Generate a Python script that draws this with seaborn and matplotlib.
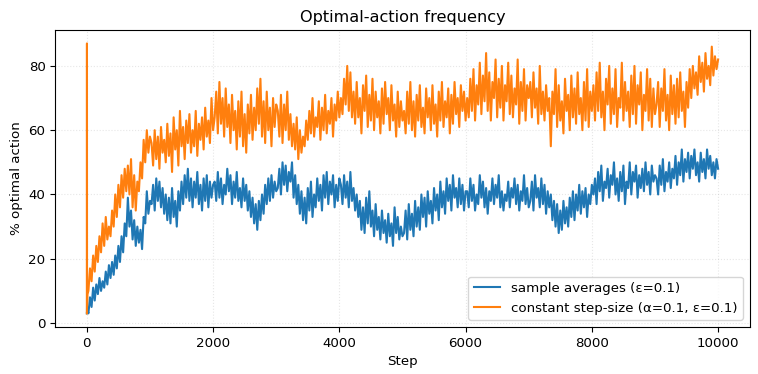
import pandas as pd
import matplotlib
matplotlib.use("Agg")
import matplotlib.pyplot as plt
import seaborn as sns

# first few steps, then one reading every 25 steps
early_steps = [1, 2, 3, 10]
steps = early_steps + list(range(25, 10001, 25))

sample_avg = [3, 3, 5, 4,
    3, 8, 5, 11, 7, 12, 9, 14, 10, 13, 11, 16, 12, 18, 14, 19, 15, 21, 17, 24, 19, 27, 22, 31, 27, 39, 30, 35, 26, 32, 24, 30, 25, 29, 23, 33, 31, 41, 34, 38,
    37, 43, 35, 45, 38, 44, 36, 42, 34, 40, 32, 39, 31, 42, 33, 38, 30, 41, 35, 44, 37, 46, 39, 48, 38, 45, 36, 44, 39, 47, 37, 43, 35, 45, 38, 46, 36, 44, 39, 43,
    44, 38, 47, 39, 45, 37, 43, 40, 48, 41, 46, 37, 44, 39, 47, 38, 42, 36, 45, 38, 43, 35, 41, 33, 39, 31, 37, 29, 38, 32, 40, 34, 43, 37, 45, 38, 46, 39, 44, 41,
    42, 48, 40, 50, 43, 49, 41, 47, 44, 50, 39, 46, 37, 43, 34, 41, 32, 39, 31, 42, 35, 44, 33, 40, 36, 45, 38, 43, 35, 46, 39, 47, 37, 44, 40, 46, 36, 43, 38, 45,
    43, 37, 46, 39, 44, 36, 47, 38, 42, 35, 40, 33, 38, 29, 36, 28, 39, 31, 41, 30, 35, 27, 37, 29, 33, 26, 35, 28, 32, 25, 34, 27, 31, 24, 36, 28, 33, 26, 30, 27,
    28, 35, 26, 37, 29, 34, 27, 38, 30, 36, 29, 40, 33, 39, 30, 41, 34, 38, 31, 42, 35, 40, 32, 44, 36, 41, 34, 45, 38, 43, 35, 46, 39, 42, 36, 45, 37, 43, 35, 41,
    41, 36, 45, 38, 43, 35, 40, 37, 46, 39, 44, 36, 42, 34, 41, 38, 45, 37, 43, 39, 46, 36, 41, 35, 40, 38, 44, 36, 42, 39, 45, 37, 43, 35, 41, 38, 46, 37, 42, 36,
    38, 44, 35, 46, 39, 42, 36, 45, 37, 43, 34, 41, 36, 40, 32, 38, 30, 37, 28, 35, 29, 38, 31, 36, 30, 39, 33, 41, 32, 40, 35, 43, 34, 41, 36, 42, 33, 40, 37, 43,
    40, 45, 37, 47, 41, 49, 38, 44, 42, 48, 39, 46, 43, 50, 40, 45, 38, 47, 41, 49, 37, 44, 42, 50, 40, 47, 44, 49, 39, 46, 42, 48, 41, 50, 43, 47, 40, 49, 44, 46,
    45, 40, 49, 43, 51, 41, 47, 44, 50, 42, 48, 45, 52, 43, 50, 46, 54, 44, 51, 47, 53, 45, 52, 48, 54, 46, 50, 44, 53, 47, 51, 45, 54, 48, 52, 46, 50, 45, 51, 48]

constant_step = [3, 87, 5, 9,
    10, 17, 13, 21, 16, 24, 19, 27, 22, 31, 24, 33, 26, 30, 27, 35, 30, 40, 33, 43, 36, 46, 39, 48, 41, 49, 40, 51, 36, 46, 35, 44, 41, 50, 45, 57, 50, 60, 53, 58,
    56, 49, 60, 51, 58, 48, 61, 53, 57, 50, 62, 52, 59, 47, 64, 54, 60, 49, 66, 55, 61, 51, 63, 56, 65, 53, 60, 55, 66, 52, 62, 57, 64, 54, 67, 58, 63, 56, 70, 60,
    64, 72, 59, 75, 62, 70, 58, 73, 61, 68, 56, 71, 60, 66, 54, 69, 58, 72, 55, 65, 53, 68, 59, 71, 57, 67, 60, 73, 62, 76, 58, 69, 56, 72, 60, 67, 55, 70, 61, 68,
    66, 58, 71, 56, 68, 60, 72, 57, 65, 55, 62, 54, 64, 51, 60, 53, 58, 55, 63, 57, 66, 59, 70, 58, 64, 61, 69, 57, 67, 60, 71, 59, 66, 62, 70, 58, 68, 63, 72, 64,
    70, 65, 76, 68, 80, 66, 78, 64, 72, 62, 75, 64, 70, 59, 74, 66, 77, 61, 71, 63, 76, 60, 72, 64, 69, 59, 73, 62, 75, 65, 70, 60, 74, 63, 68, 58, 72, 61, 69, 63,
    66, 59, 72, 62, 75, 60, 69, 58, 71, 63, 74, 61, 67, 59, 73, 64, 70, 60, 74, 62, 68, 58, 72, 63, 75, 61, 69, 64, 73, 59, 71, 62, 75, 65, 70, 61, 74, 66, 72, 63,
    70, 64, 76, 66, 79, 63, 74, 68, 81, 65, 77, 69, 84, 66, 78, 63, 75, 70, 82, 64, 76, 67, 80, 63, 74, 69, 81, 65, 77, 64, 73, 68, 82, 62, 75, 66, 79, 63, 74, 70,
    75, 64, 78, 67, 73, 62, 80, 65, 72, 63, 74, 66, 70, 55, 72, 65, 79, 61, 74, 63, 69, 59, 76, 66, 71, 60, 77, 64, 73, 62, 78, 65, 70, 60, 75, 63, 79, 61, 72, 66,
    74, 63, 78, 66, 81, 64, 72, 60, 76, 68, 80, 62, 73, 65, 79, 61, 70, 67, 81, 63, 75, 66, 72, 61, 77, 65, 80, 62, 74, 68, 78, 60, 71, 66, 79, 63, 76, 61, 73, 65,
    68, 75, 61, 73, 66, 79, 63, 71, 60, 77, 65, 74, 62, 76, 64, 78, 66, 72, 61, 75, 67, 79, 70, 80, 73, 78, 71, 83, 75, 81, 72, 84, 76, 80, 74, 86, 77, 83, 79, 82]

labels = ["sample averages (\u03b5=0.1)", "constant step-size (\u03b1=0.1, \u03b5=0.1)"]

df = pd.DataFrame({"step": steps, "sample": sample_avg, "constant": constant_step})

plt.rcParams["font.size"] = 9.65

fig, ax = plt.subplots(figsize=(7.58, 3.74), dpi=100)
sns.lineplot(data=df, x="step", y="sample", color="tab:blue", label=labels[0],
             estimator=None, linewidth=1.5, ax=ax)
sns.lineplot(data=df, x="step", y="constant", color="tab:orange", label=labels[1],
             estimator=None, linewidth=1.5, ax=ax)

ax.set_title("Optimal-action frequency")
ax.set_xlabel("Step")
ax.set_ylabel("% optimal action")
ax.set_yticks([0, 20, 40, 60, 80])
ax.grid(True, linestyle=":", alpha=0.3)
ax.legend(loc="lower right")

fig.subplots_adjust(left=0.073, right=0.989, top=0.92, bottom=0.126)
fig.savefig("out.png", dpi=100)
